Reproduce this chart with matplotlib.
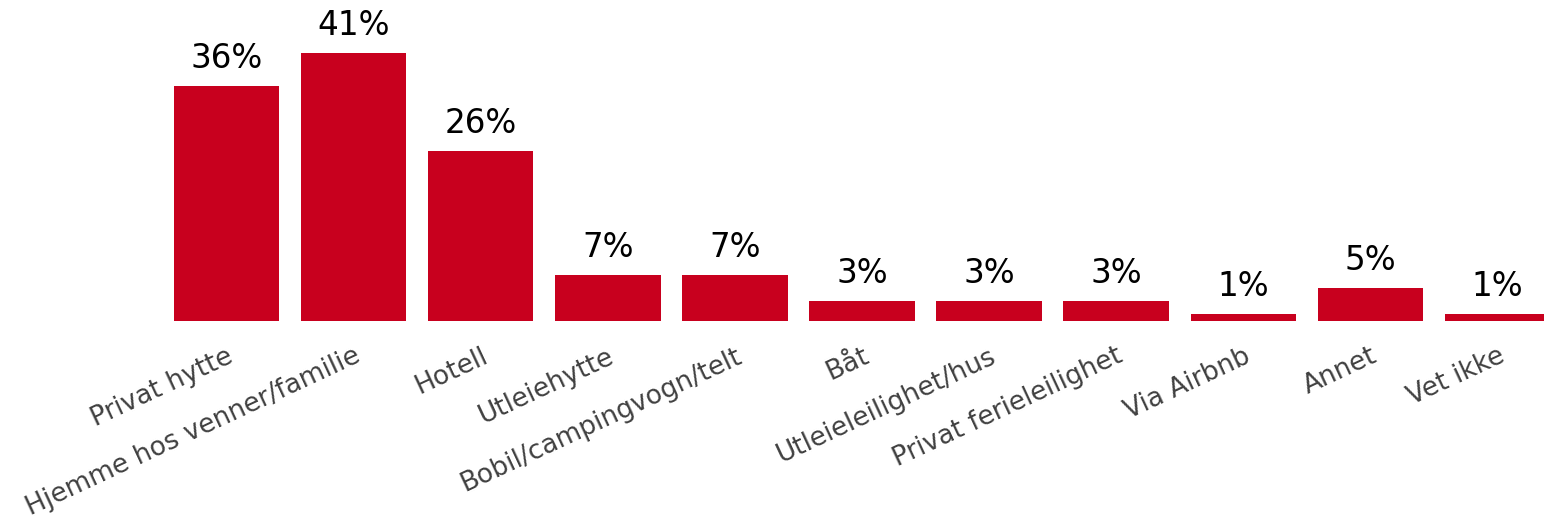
import matplotlib
matplotlib.use('Agg')
import matplotlib.pyplot as plt

# --- Dados ---
kategorier = ['Privat hytte', 'Hjemme hos venner/familie', 'Hotell', 'Utleiehytte',
              'Bobil/campingvogn/telt', 'Båt', 'Utleieleilighet/hus',
              'Privat ferieleilighet', 'Via Airbnb', 'Annet', 'Vet ikke']
andel = [36, 41, 26, 7, 7, 3, 3, 3, 1, 5, 1]
etiketter = ['36%', '41%', '26%', '7%', '7%', '3%', '3%', '3%', '1%', '5%', '1%']

rod = '#C8001E'
tekstfarge = '#404040'

fig = plt.figure(figsize=(15.44, 5.24), dpi=100)
ax = fig.add_axes([0, 203 / 524, 1, 321 / 524])

x = list(range(len(kategorier)))
ax.bar(x, andel, width=0.83, color=rod)

for xi, v, lab in zip(x, andel, etiketter):
    ax.annotate(lab, (xi, v), xytext=(0, 8), textcoords='offset points',
                ha='center', va='bottom', fontsize=23.5, color='black')

ax.set_xlim(-1.782, 10.366)
ax.set_ylim(0, 41 * 321 / 268)

ax.set_xticks(x)
ax.set_xticklabels(kategorier, rotation=25, ha='right', rotation_mode='anchor',
                   fontsize=19, color=tekstfarge)
ax.tick_params(axis='x', length=0, pad=16)
ax.set_yticks([])
for s in ax.spines.values():
    s.set_visible(False)

fig.savefig('out.png', dpi=100)
